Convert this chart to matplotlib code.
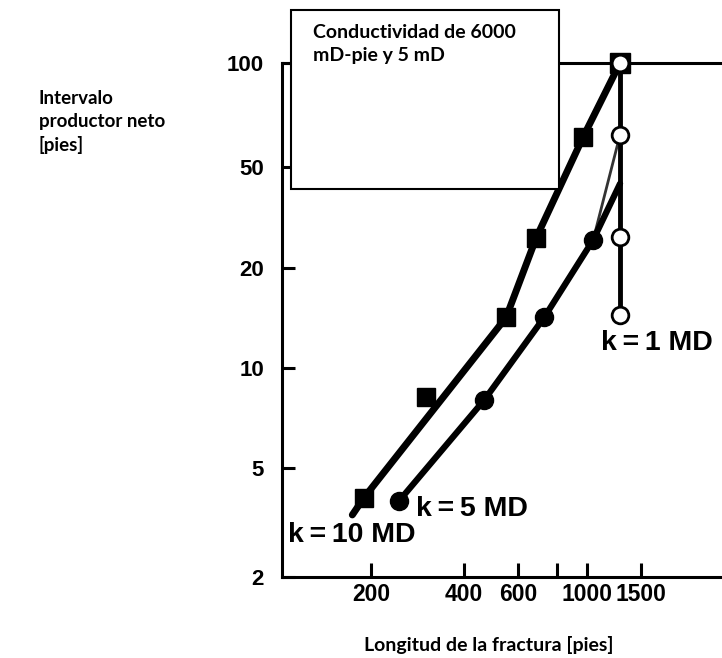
import numpy as np
import matplotlib
matplotlib.use("Agg")
import matplotlib.pyplot as plt
from matplotlib.patches import Rectangle

# Data (fracture length [ft] vs net pay [ft])
k10_x = [190, 302, 548, 686, 973]
k10_y = [3.9, 8.2, 14.2, 26.3, 61]
k10_line_x = [174, 190, 548, 686, 973, 1282]
k10_line_y = [3.37, 3.9, 14.2, 26.3, 61, 100]

k5_x = [247, 465, 728, 1049]
k5_y = [3.8, 8.0, 14.2, 25.8]
k5_line_x = [247, 465, 728, 1049, 1282]
k5_line_y = [3.8, 8.0, 14.2, 25.8, 43]
k5_branch_x = [1049, 1282]
k5_branch_y = [25.8, 62]

k1_x = [1282, 1282, 1282, 1282]
k1_y = [100, 62, 26.5, 14.4]

x_ticks = [200, 400, 600, 800, 1000, 1500]
x_tick_labels = ['200', '400', '600', '', '1000', '1500']
y_ticks = [2, 5, 10, 20, 50, 100]
y_tick_labels = ['2', '5', '10', '20', '50', '100']

# the printed y axis is not a true log axis: ticks are almost evenly spaced
scale_vals = np.log10([0.2, 2, 5, 10, 20, 50, 100, 1000])
scale_pos = np.array([-274, 0, 109, 209, 309, 410, 514, 859], dtype=float)


def y_forward(v):
    v = np.clip(np.asarray(v, dtype=float), 1e-3, None)
    return np.interp(np.log10(v), scale_vals, scale_pos)


def y_inverse(p):
    return 10 ** np.interp(np.asarray(p, dtype=float), scale_pos, scale_vals)


num_font = ['Liberation Sans', 'DejaVu Sans']
txt_font = ['Lato', 'DejaVu Sans']

fig = plt.figure(figsize=(7.22, 6.58), dpi=100)
ax = fig.add_axes([0.3906, 0.1231, 0.6094, 0.7812])

ax.set_xscale('log')
ax.set_yscale('function', functions=(y_forward, y_inverse))
ax.set_xlim(103, 2742)
ax.set_ylim(2, 100)

# k = 10 MD
ax.plot(k10_line_x, k10_line_y, color='black', lw=5, solid_capstyle='round', zorder=3)
ax.plot(k10_x, k10_y, 's', color='black', ms=13, zorder=4)

# k = 5 MD
ax.plot(k5_branch_x, k5_branch_y, color='#333333', lw=2, zorder=2)
ax.plot(k5_line_x, k5_line_y, color='black', lw=4.5, solid_capstyle='round', zorder=3)
ax.plot(k5_x, k5_y, 'o', color='black', ms=13, zorder=4)

# k = 1 MD
ax.plot(k1_x, k1_y, color='black', lw=3.5, zorder=3)
ax.plot(k1_x[:1], k1_y[:1], 's', color='black', ms=14, zorder=5, clip_on=False)
ax.plot(k1_x, k1_y, 'o', mfc='white', mec='black', mew=2, ms=12, zorder=6, clip_on=False)

ax.text(173, 2.85, 'k\u2009=\u200910 MD', fontsize=20.5, family=num_font, weight='bold',
        ha='center', va='center')
ax.text(426, 3.54, 'k\u2009=\u20095 MD', fontsize=20.5, family=num_font, weight='bold',
        ha='center', va='center')
ax.text(1689, 11.9, 'k\u2009=\u20091 MD', fontsize=20.5, family=num_font, weight='bold',
        ha='center', va='center')

# axes styling
ax.spines['right'].set_visible(False)
for s in ['left', 'bottom', 'top']:
    ax.spines[s].set_linewidth(2.2)
ax.minorticks_off()
ax.set_xticks(x_ticks)
ax.set_xticklabels(x_tick_labels, fontsize=16.5, family=num_font, weight='bold')
ax.set_yticks(y_ticks)
ax.set_yticklabels(y_tick_labels, fontsize=16, family=num_font, weight='bold')
ax.tick_params(axis='x', direction='in', length=10, width=2.2, pad=4, top=False)
ax.tick_params(axis='y', direction='in', length=9, width=2.2, pad=13, right=False)

# labels
fig.text(39 / 722, 1 - 122 / 658, 'Intervalo\nproductor neto\n[pies]', fontsize=13.5,
         family=txt_font, weight='bold', ha='left', va='center', linespacing=1.4)
fig.text(489 / 722, 1 - 645 / 658, 'Longitud de la fractura [pies]', fontsize=14,
         family=txt_font, weight='bold', ha='center', va='center')

# annotation box
box = Rectangle((291 / 722, 1 - 189 / 658), 268 / 722, 179 / 658, transform=fig.transFigure,
                facecolor='white', edgecolor='black', lw=1.5, zorder=10)
fig.add_artist(box)
fig.text(313 / 722, 1 - 38 / 658, 'Conductividad de 6000', fontsize=14, family=txt_font,
         weight='bold', ha='left', va='baseline', zorder=11)
fig.text(313 / 722, 1 - 61 / 658, 'mD-pie y 5 mD', fontsize=14, family=txt_font,
         weight='bold', ha='left', va='baseline', zorder=11)

fig.savefig('out.png', dpi=100)
